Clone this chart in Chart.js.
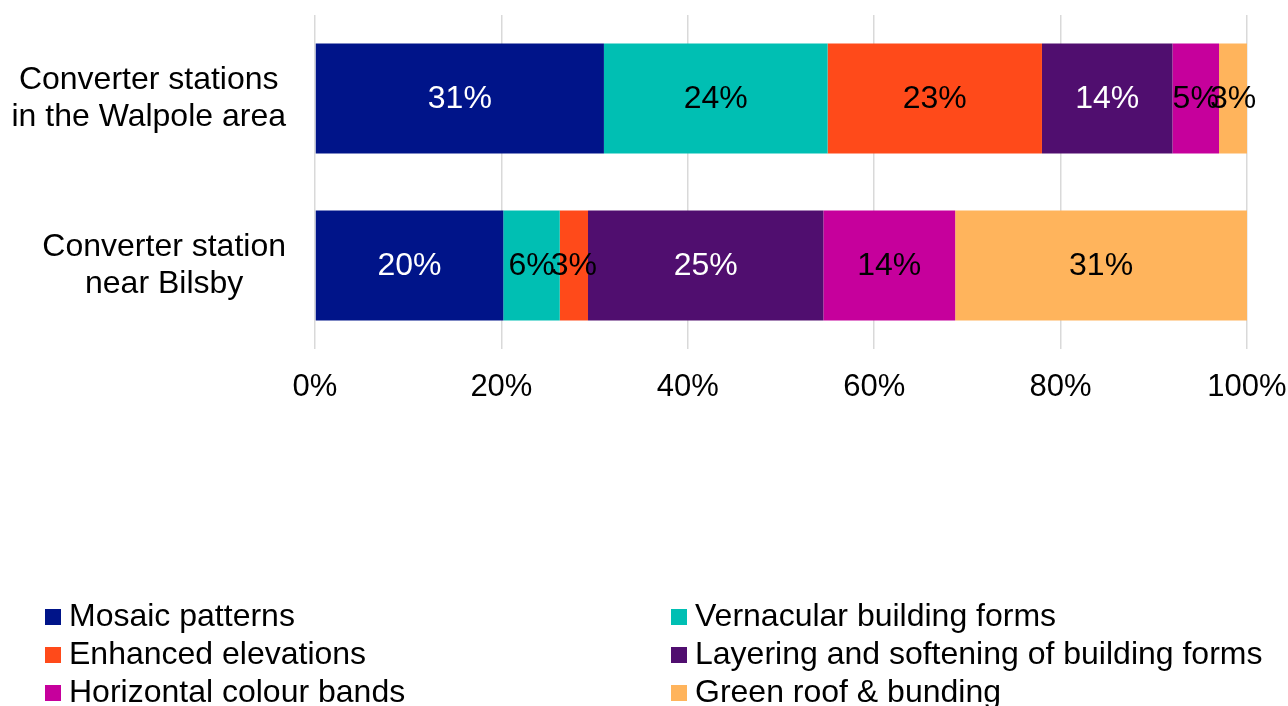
<!DOCTYPE html>
<html>
<head>
<meta charset="utf-8">
<script src="https://cdn.jsdelivr.net/npm/chart.js@4/dist/chart.umd.min.js"></script>
<style>
  html, body { margin: 0; padding: 0; background: #fff; }
  #wrap { width: 1288px; height: 706px; position: relative; }
</style>
</head>
<body>
<div id="wrap"><canvas id="mix-chart"></canvas></div>
<script>
// ===== Design measures by site =====
const categories = [
  ['Converter stations', 'in the Walpole area'],
  ['Converter station', 'near Bilsby'],
];
const seriesNames = [
  'Mosaic patterns',
  'Vernacular building forms',
  'Enhanced elevations',
  'Layering and softening of building forms',
  'Horizontal colour bands',
  'Green roof & bunding',
];
// percentages per site, in series order
const mosaic = [31, 20];
const vernacular = [24, 6];
const enhanced = [23, 3];
const layering = [14, 25];
const colourBands = [5, 14];
const greenRoof = [3, 31];
const xTicks = [0, 20, 40, 60, 80, 100];

const seriesValues = [mosaic, vernacular, enhanced, layering, colourBands, greenRoof];
const seriesColors = ['#001489', '#00BFB3', '#FF4A1A', '#500E6F', '#C6009C', '#FFB45C'];
const labelColors = ['#fff', '#000', '#000', '#fff', '#000', '#000'];

const FONT = '"Liberation Sans", Arial, sans-serif';

// each bar is scaled to 100% of its own total
const totals = categories.map((_, i) => seriesValues.reduce((s, arr) => s + arr[i], 0));

const datasets = seriesNames.map((name, k) => ({
  label: name,
  raw: seriesValues[k],
  data: seriesValues[k].map((v, i) => v / totals[i] * 100),
  backgroundColor: seriesColors[k],
  borderWidth: 0,
  barPercentage: 0.66,
  categoryPercentage: 1,
}));

// value text centred on each segment
const segmentLabels = {
  id: 'segmentLabels',
  afterDatasetsDraw(chart) {
    const ctx = chart.ctx;
    ctx.save();
    ctx.font = '32px ' + FONT;
    ctx.textAlign = 'center';
    ctx.textBaseline = 'middle';
    chart.data.datasets.forEach((ds, k) => {
      chart.getDatasetMeta(k).data.forEach((bar, i) => {
        const p = bar.getProps(['x', 'y', 'base'], true);
        ctx.fillStyle = labelColors[k];
        ctx.fillText(ds.raw[i] + '%', (p.x + p.base) / 2, p.y + 1);
      });
    });
    ctx.restore();
  },
};

// two-line site names: block right-aligned, lines centred within it
const siteLabels = {
  id: 'siteLabels',
  afterDraw(chart) {
    const ctx = chart.ctx;
    const yScale = chart.scales.y;
    const right = chart.chartArea.left - 29;
    const lineH = 37;
    ctx.save();
    ctx.font = '32px ' + FONT;
    ctx.fillStyle = '#000';
    ctx.textAlign = 'center';
    ctx.textBaseline = 'middle';
    categories.forEach((lines, i) => {
      const w = Math.max(...lines.map(l => ctx.measureText(l).width));
      const cx = right - w / 2;
      const cy = yScale.getPixelForValue(i);
      lines.forEach((l, j) => {
        ctx.fillText(l, cx, cy + (j - (lines.length - 1) / 2) * lineH);
      });
    });
    ctx.restore();
  },
};

// legend in two columns under the plot
const columnLegend = {
  id: 'columnLegend',
  afterDraw(chart) {
    const ctx = chart.ctx;
    const cols = [45, 671];
    const rows = [617, 655, 693];
    ctx.save();
    ctx.font = '32px ' + FONT;
    ctx.textBaseline = 'middle';
    ctx.textAlign = 'left';
    seriesNames.forEach((name, k) => {
      const x = cols[k % 2];
      const y = rows[Math.floor(k / 2)];
      ctx.fillStyle = seriesColors[k];
      ctx.fillRect(x, y - 8, 16, 16);
      ctx.fillStyle = '#000';
      ctx.fillText(name, x + 24, y);
    });
    ctx.restore();
  },
};

new Chart(document.getElementById('mix-chart'), {
  type: 'bar',
  data: { labels: categories, datasets },
  plugins: [segmentLabels, siteLabels, columnLegend],
  options: {
    indexAxis: 'y',
    responsive: true,
    maintainAspectRatio: false,
    animation: false,
    layout: { padding: { top: 15, right: 0, left: 0, bottom: 0 } },
    plugins: {
      legend: { display: false },
      tooltip: { enabled: false },
    },
    scales: {
      x: {
        stacked: true,
        min: 0,
        max: 100,
        afterBuildTicks: (scale) => { scale.ticks = xTicks.map(v => ({ value: v })); },
        afterFit: (scale) => {
          scale.height = 357;
          scale.paddingLeft = 0;
          scale.paddingRight = 41;
        },
        grid: { color: '#D9D9D9', lineWidth: 1.5, drawTicks: false },
        border: { display: false },
        ticks: {
          padding: 20,
          color: '#000',
          font: { family: FONT, size: 31 },
          callback: (v) => v + '%',
          maxRotation: 0,
        },
      },
      y: {
        stacked: true,
        afterFit: (scale) => { scale.width = 315; },
        grid: { display: false },
        border: { display: false },
        ticks: { display: false },
      },
    },
  },
});
</script>
</body>
</html>
